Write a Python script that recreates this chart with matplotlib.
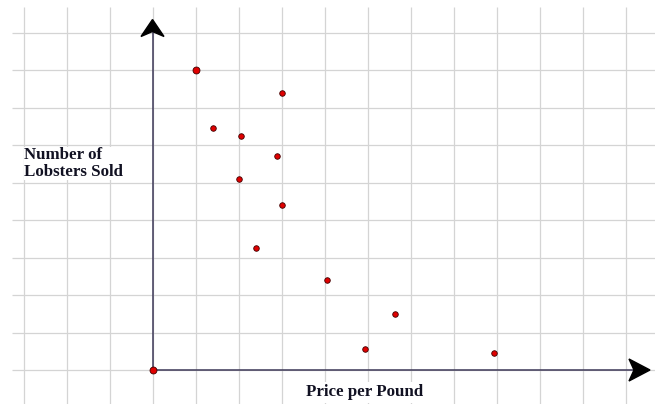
import numpy as np
import matplotlib.pyplot as plt
from matplotlib.patches import Polygon

# data (grid units)
price = [0, 1.0, 3.0, 1.4, 2.05, 2.9, 2.0, 3.0, 2.4, 4.05, 5.65, 4.95, 7.95]
lobsters = [0, 8.0, 7.4, 6.45, 6.25, 5.7, 5.1, 4.4, 3.25, 2.4, 1.5, 0.55, 0.45]

x_grid = np.arange(-3, 12)
y_grid = np.arange(0, 10)

# pixel scale of one grid cell
px_x = 43.0
px_y = 37.5
ox, oy = 152.5, 370.0
W, H = 655, 404

fig = plt.figure(figsize=(W / 100, H / 100), dpi=100)
ax = fig.add_axes([0, 0, 1, 1])
ax.set_xlim(-ox / px_x, (W - ox) / px_x)
ax.set_ylim(-(H - oy) / px_y, oy / px_y)
ax.set_axis_off()

grid_col = '#d4d4d4'
ax.vlines(x_grid, -(H - oy) / px_y, (oy - 7) / px_y, color=grid_col, lw=0.9, zorder=1)
ax.hlines(y_grid, (12 - ox) / px_x, (W - ox) / px_x, color=grid_col, lw=0.9, zorder=1)

# axes with arrow heads
axis_col = '#3d3858'
y_tip = (oy - 19.5) / px_y
x_tip = (650 - ox) / px_x
ax.plot([0, 0], [0, y_tip - 0.2], color=axis_col, lw=1.1, zorder=2)
ax.plot([0, x_tip - 0.2], [0, 0], color=axis_col, lw=1.1, zorder=2)

hw, ln, notch = 11.5, 17.0, 5.0
ax.add_patch(Polygon([(0, y_tip),
                      (-hw / px_x, y_tip - ln / px_y),
                      (0, y_tip - (ln - notch) / px_y),
                      (hw / px_x, y_tip - ln / px_y)],
                     closed=True, color='black', zorder=3))
ax.add_patch(Polygon([(x_tip, 0),
                      (x_tip - 21 / px_x, 11 / px_y),
                      (x_tip - 16 / px_x, 0),
                      (x_tip - 21 / px_x, -11 / px_y)],
                     closed=True, color='black', zorder=3))

# points
ax.plot(price[2:], lobsters[2:], 'o', ms=4.0, mfc='#e00000', mec='#400000', mew=0.6, zorder=4)
ax.plot(price[:2], lobsters[:2], 'o', ms=5.0, mfc='#e00000', mec='#400000', mew=0.6, zorder=4)

font = dict(family='Liberation Serif', fontweight='bold', fontsize=12.2, color='#111122')
ax.text((24 - ox) / px_x, (oy - 163.5) / px_y, 'Number of\nLobsters Sold', ha='left', va='center',
        linespacing=1.1, bbox=dict(facecolor='white', edgecolor='none', pad=0), zorder=3, **font)
ax.text((365 - ox) / px_x, (oy - 392.5) / px_y, 'Price per Pound', ha='center', va='center',
        bbox=dict(facecolor='white', edgecolor='none', pad=2), zorder=3, **font)

fig.savefig('out.png', dpi=100)
